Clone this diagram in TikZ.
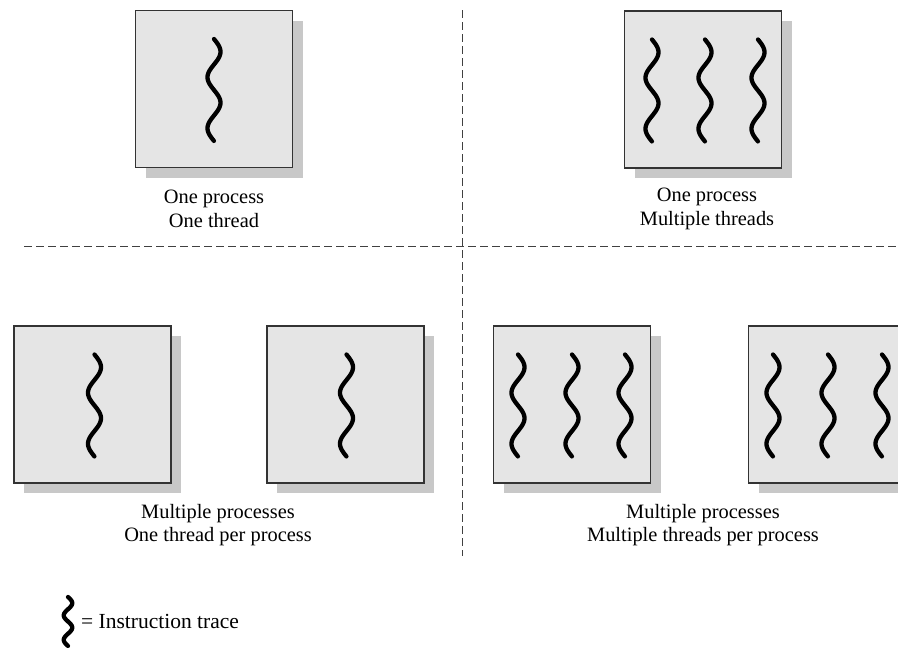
\documentclass[tikz,border=0pt]{standalone}
\usepackage{fontspec}
\setmainfont{Liberation Serif}
\usepackage{tikz}
\usetikzlibrary{shadows,calc}

\tikzset{
  procbox/.style={draw=black!80, line width=1.1pt, fill=gray!20, minimum size=157pt, inner sep=0pt,
    drop shadow={shadow xshift=10pt, shadow yshift=-10pt, fill=gray!43, opacity=1}},
  trace/.style={line width=4.3pt, line cap=round},
  divider/.style={draw=black!75, line width=1pt, dash pattern=on 8pt off 4pt},
  caption/.style={align=center, font=\fontsize{20.4}{23.5}\selectfont, inner sep=0pt},
  thread/.pic={\draw[trace] plot[domain=0:1, samples=97, smooth] ({6.5*sin(720*\x)}, {-50+102*\x});}
}

\begin{document}
\begin{tikzpicture}[x=1pt,y=-1pt]
\clip (0,0) rectangle (898,648);

\path[divider] (24,246) -- (898,246);
\path[divider] (462,10) -- (462,556);

\node[procbox] (p1) at (214,89) {};
\pic at (p1) {thread};
\node[caption] (c1) at (214,209) {One process\\One thread};

\node[procbox] (p2) at (703,89.5) {};
\foreach \dx in {-51,2,55}
  \pic at ($(p2)+(\dx,0)$) {thread};
\node[caption] (c2) at (707,209) {One process\\Multiple threads};

\node[procbox] (p3) at (92.5,404.5) {};
\pic at ($(p3)+(2,0)$) {thread};
\node[procbox] (p4) at (345.5,404.5) {};
\pic at ($(p4)+(1,0)$) {thread};
\node[caption] (c3) at (218,525) {Multiple processes\\One thread per process};

\node[procbox] (p5) at (572,404.5) {};
\foreach \dx in {-54,0,53}
  \pic at ($(p5)+(\dx,0)$) {thread};
\node[procbox] (p6) at (827,404.5) {};
\foreach \dx in {-54,1,55}
  \pic at ($(p6)+(\dx,0)$) {thread};
\node[caption] (c4) at (703,525) {Multiple processes\\Multiple threads per process};

\pic[yscale=0.48, xscale=0.65] at (68,621) {thread};
\node[caption, anchor=west, font=\fontsize{21.5}{24}\selectfont] (key) at (81,621) {= Instruction trace};
\end{tikzpicture}
\end{document}
